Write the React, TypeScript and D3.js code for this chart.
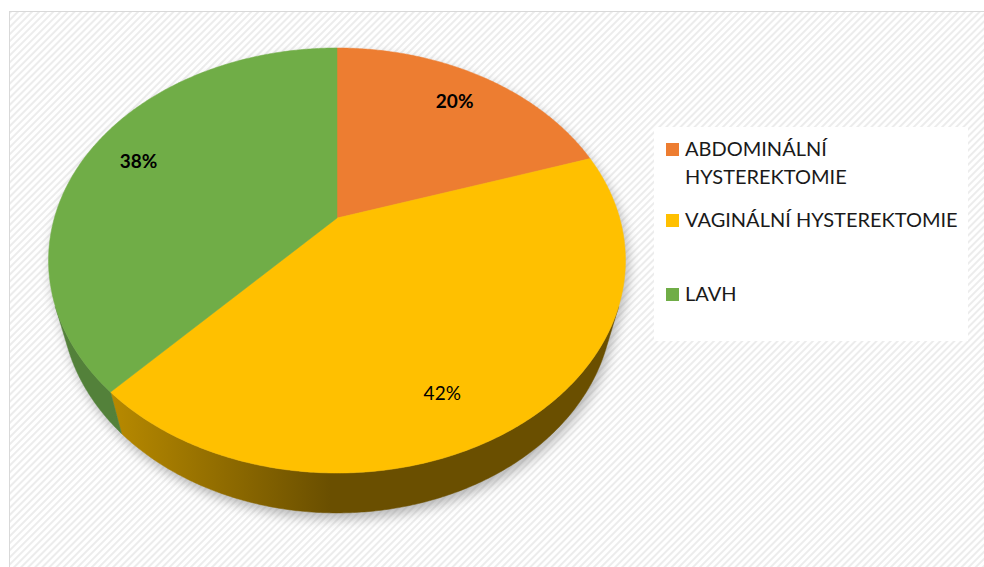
import React from "react";
import * as d3 from "d3";

const categories = ["ABDOMINÁLNÍ HYSTEREKTOMIE", "VAGINÁLNÍ HYSTEREKTOMIE", "LAVH"];
const legendLines = [["ABDOMINÁLNÍ", "HYSTEREKTOMIE"], ["VAGINÁLNÍ HYSTEREKTOMIE"], ["LAVH"]];
const values = [20, 42, 38];
const labels = ["20%", "42%", "38%"];
const labelBold = [true, false, true];
const topColors = ["#ED7D31", "#FFC000", "#70AD47"];
const wallLight = ["#B35D20", "#B88A00", "#53813A"];
const wallDark = ["#8E4A18", "#6A4F00", "#4B7730"];
const labelShift = [0, 9, 0]; // degrees

const W = 984;
const H = 567;
// 3D perspective parameters
const CX = 337, CY = 218;
const SA = 0.706, CA = 0.708, DIST = 3.54, FOC = 1023, DEPTH = 0.219, KX = 0.978;

function proj(theta: number, r: number, h: number): [number, number] {
  const x = r * Math.sin(theta);
  const z = r * Math.cos(theta);
  const u = z * SA + h * CA;
  const w = z * CA - h * SA;
  const s = FOC / (DIST + w);
  return [CX + x * s * KX, CY - u * s];
}

function arcPts(a0: number, a1: number, r: number, h: number): [number, number][] {
  const n = Math.max(2, Math.ceil(Math.abs(a1 - a0) / (Math.PI / 360)));
  const pts: [number, number][] = [];
  for (let i = 0; i <= n; i++) pts.push(proj(a0 + ((a1 - a0) * i) / n, r, h));
  return pts;
}

export default function App() {
  const arcs = d3.pie<number>().sort(null).value((d) => d)(values);
  const line = d3.line();
  const visC = Math.acos(-1 / (DIST * CA));
  const vis0 = visC, vis1 = 2 * Math.PI - visC;

  const walls = arcs
    .map((a, i) => {
      const s = Math.max(a.startAngle, vis0);
      const e = Math.min(a.endAngle, vis1);
      if (e <= s) return null;
      const top = arcPts(s, e, 1, 0);
      const bot = arcPts(e, s, 1, -DEPTH);
      return { i, d: line([...top, ...bot])! + "Z" };
    })
    .filter(Boolean) as { i: number; d: string }[];

  const silhouette =
    line([...arcPts(vis0, vis1, 1, 0), ...arcPts(vis1, vis0, 1, -DEPTH)])! + "Z";
  const topEllipse = line(arcPts(0, 2 * Math.PI, 1, 0))! + "Z";

  const tops = arcs.map((a, i) => ({
    i,
    d: line([[CX, CY], ...arcPts(a.startAngle, a.endAngle, 1, 0)])! + "Z",
  }));

  const labelPos = arcs.map((a, i) => {
    const mid = (a.startAngle + a.endAngle) / 2 + (labelShift[i] * Math.PI) / 180;
    return proj(mid, 0.8, 0);
  });

  const legendX = 654, legendY = 127;
  const entryY = [156, 227, 301];

  return (
    <svg width={W} height={H} style={{ position: "absolute", left: 0, top: 0 }}>
      <defs>
        <pattern id="hatch" patternUnits="userSpaceOnUse" width="5" height="5" patternTransform="rotate(-45)">
          <rect width="5" height="5" fill="#ffffff" />
          <rect width="5" height="2" fill="#ececec" />
        </pattern>
        <filter id="shadow" x="-20%" y="-20%" width="140%" height="140%">
          <feGaussianBlur stdDeviation="6" />
        </filter>
        {walls.map((w) => (
          <linearGradient key={w.i} id={`wg${w.i}`} gradientUnits="userSpaceOnUse" x1="110" y1="0" x2="330" y2="0">
            <stop offset="0" stopColor={wallLight[w.i]} />
            <stop offset="1" stopColor={wallDark[w.i]} />
          </linearGradient>
        ))}
      </defs>
      <rect x={0} y={0} width={W} height={H} fill="#ffffff" />
      <rect x={9.5} y={11.5} width={W} height={H} fill="url(#hatch)" stroke="#d9d9d9" strokeWidth={1} />
      <g transform="translate(3,6)" filter="url(#shadow)" opacity={0.55}>
        <path d={silhouette} fill="#7f7f7f" />
        <path d={topEllipse} fill="#7f7f7f" />
      </g>
      {walls.map((w) => (
        <path key={w.i} d={w.d} fill={`url(#wg${w.i})`} stroke={`url(#wg${w.i})`} strokeWidth={0.5} />
      ))}
      {tops.map((t) => (
        <path key={t.i} d={t.d} fill={topColors[t.i]} stroke={topColors[t.i]} strokeWidth={0.5} />
      ))}
      {labelPos.map((p, i) => (
        <text
          key={i}
          x={p[0]}
          y={p[1]}
          dy="0.35em"
          textAnchor="middle"
          fontFamily="Lato, 'Open Sans', sans-serif"
          fontSize={19}
          fontWeight={labelBold[i] ? "bold" : "normal"}
          fill="#000000"
        >
          {labels[i]}
        </text>
      ))}
      <rect x={legendX} y={legendY} width={314} height={214} fill="#ffffff" />
      {categories.map((c, i) => (
        <g key={c}>
          <rect x={666} y={entryY[i] - 13} width={13} height={13} fill={topColors[i]} />
          <text x={685} y={entryY[i]} fontFamily="Lato, 'Open Sans', sans-serif" fontSize={20} fill="#1a1a1a">
            {legendLines[i].map((l, k) => (
              <tspan key={k} x={685} dy={k === 0 ? 0 : 28}>
                {l}
              </tspan>
            ))}
          </text>
        </g>
      ))}
    </svg>
  );
}
